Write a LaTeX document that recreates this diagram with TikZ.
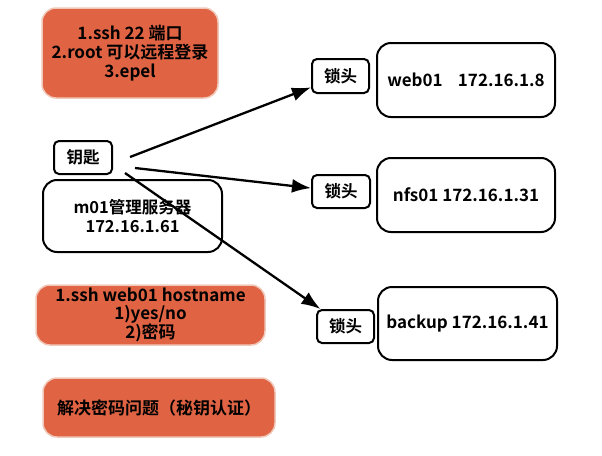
\documentclass[tikz,border=0pt]{standalone}
\usepackage{fontspec}
\setmainfont{Noto Sans CJK SC}[BoldFont={Noto Sans CJK SC Bold}]
\usetikzlibrary{arrows.meta}
\definecolor{orng}{RGB}{224,100,68}
\definecolor{glow}{RGB}{240,200,185}
\begin{document}
\begin{tikzpicture}[x=1pt,y=-1pt,
  obox/.style={fill=orng,draw=glow,line width=1.5pt,rounded corners=14pt,align=center,font=\bfseries\fontsize{17}{19}\selectfont,inner sep=0pt},
  wbox/.style={draw=black,line width=2pt,rounded corners=14pt,align=center,font=\bfseries\fontsize{17}{19}\selectfont,inner sep=0pt},
  sbox/.style={draw=black,line width=2pt,rounded corners=5pt,align=center,font=\bfseries\fontsize{16.5}{18}\selectfont,inner sep=0pt},
  arr/.style={line width=2.3pt,-{Latex[length=19pt,width=14pt]}}]
\useasboundingbox (0,0) rectangle (602,455);
\fill[white] (0,0) rectangle (602,455);
\node[obox,minimum width=176pt,minimum height=90pt] (o1) at (130,53) {1.ssh 22 端口\\2.root 可以远程登录\\3.epel};
\node[sbox,minimum width=58pt,minimum height=33pt] (key) at (83,157.5) {钥匙};
\node[wbox,minimum width=179pt,minimum height=72pt,font=\bfseries\fontsize{16.5}{19}\selectfont] (m01) at (132.5,216) {m01管理服务器\\172.16.1.61};
\node[obox,minimum width=229pt,minimum height=60pt,font=\bfseries\fontsize{17}{17.5}\selectfont] (o2) at (150.5,315) {1.ssh web01 hostname\\1)yes/no\\2)密码};
\node[obox,minimum width=232pt,minimum height=59pt] (o3) at (159,407.5) {解决密码问题（秘钥认证）};
\node[sbox,minimum width=57pt,minimum height=34pt] (lock1) at (340.5,76) {锁头};
\node[wbox,minimum width=178pt,minimum height=74pt] (web) at (466,80) {web01\hspace{0.9em}172.16.1.8};
\node[sbox,minimum width=58pt,minimum height=33pt] (lock2) at (341,191.5) {锁头};
\node[wbox,minimum width=178pt,minimum height=74pt] (nfs) at (466,195) {nfs01 172.16.1.31};
\node[sbox,minimum width=57pt,minimum height=33pt] (lock3) at (345.5,326.5) {锁头};
\node[wbox,minimum width=179pt,minimum height=73pt] (bak) at (467.5,323.5) {backup 172.16.1.41};
\coordinate (s1) at (130,157);
\coordinate (s2) at (135,168);
\coordinate (s3) at (125,173);
\draw[arr] (s1) -- (lock1);
\draw[arr] (s2) -- (lock2);
\draw[arr] (s3) -- (lock3);
\end{tikzpicture}
\end{document}
